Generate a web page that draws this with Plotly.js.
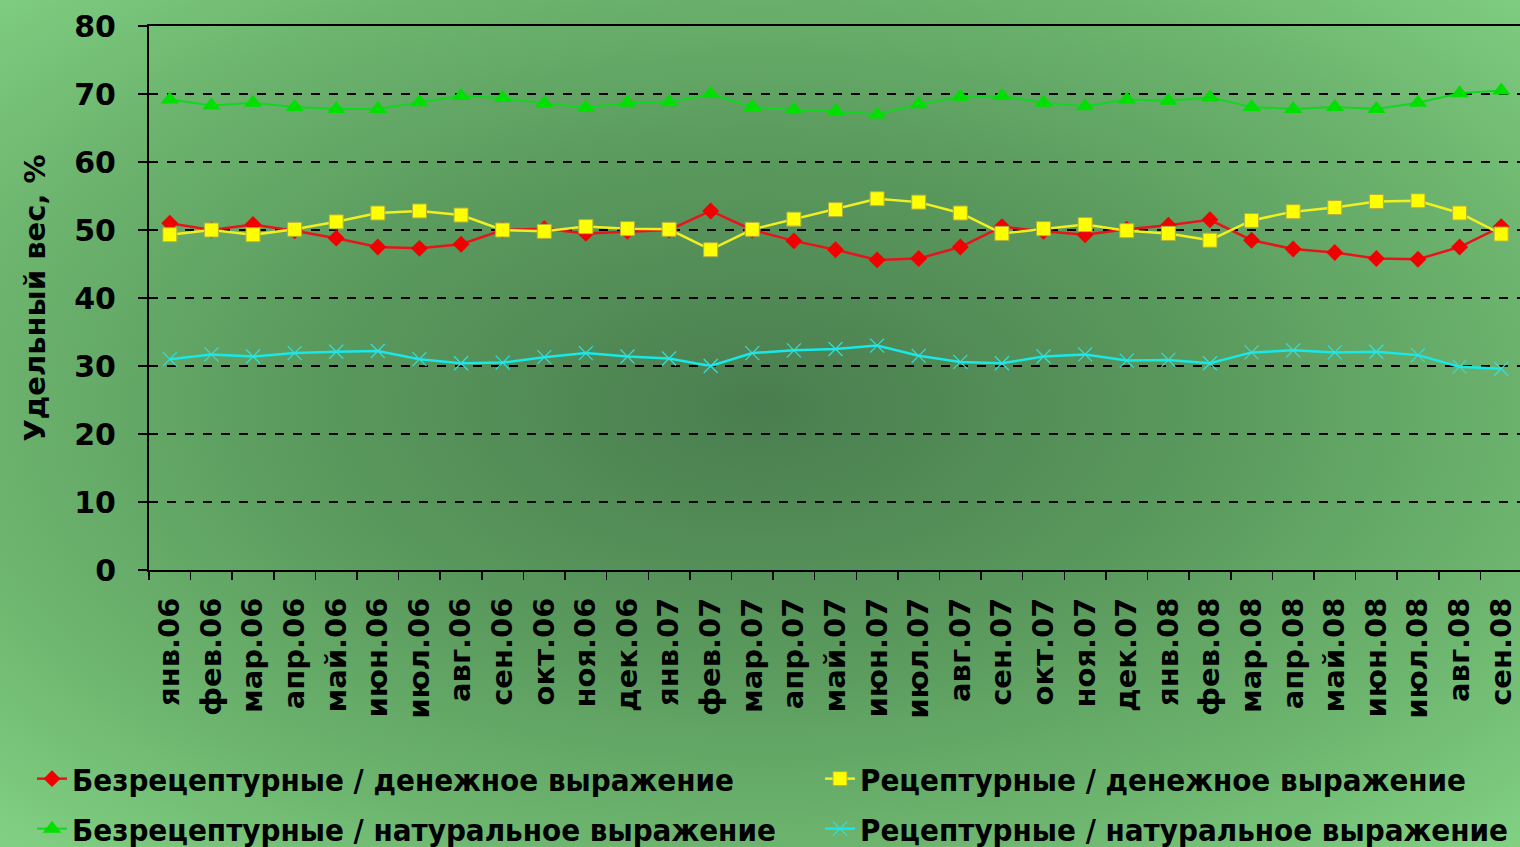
<!DOCTYPE html>
<html><head><meta charset="utf-8">
<script src="https://cdn.plot.ly/plotly-3.0.1.min.js"></script>
<style>
html,body{margin:0;padding:0;width:1520px;height:847px;overflow:hidden;
background: radial-gradient(ellipse 75% 75% at 50% 48%, #4a7d4f 0%, #5a9a5d 40%, #6db56f 70%, #84d586 100%);}
#chart{width:1522px;height:847px;}
</style></head>
<body><div id="chart"></div>
<script>
const categories = ["янв.06","фев.06","мар.06","апр.06","май.06","июн.06","июл.06","авг.06","сен.06","окт.06","ноя.06","дек.06",
"янв.07","фев.07","мар.07","апр.07","май.07","июн.07","июл.07","авг.07","сен.07","окт.07","ноя.07","дек.07",
"янв.08","фев.08","мар.08","апр.08","май.08","июн.08","июл.08","авг.08","сен.08"];
const otcMoney = [51.0,50.0,50.8,49.9,48.8,47.5,47.3,47.9,50.0,50.2,49.5,49.8,50.0,52.8,50.0,48.4,47.1,45.6,45.8,47.5,50.5,49.8,49.3,50.1,50.7,51.5,48.5,47.2,46.7,45.8,45.7,47.5,50.5];
const rxMoney = [49.3,50.0,49.3,50.1,51.2,52.5,52.8,52.2,50.0,49.8,50.5,50.2,50.1,47.1,50.1,51.6,53.0,54.6,54.1,52.5,49.5,50.2,50.8,49.9,49.5,48.5,51.4,52.7,53.3,54.2,54.3,52.5,49.4];
const otcUnits = [69.2,68.3,68.7,68.1,67.8,67.8,68.8,69.7,69.4,68.6,68.0,68.7,68.8,70.0,68.1,67.7,67.5,67.0,68.5,69.6,69.7,68.7,68.2,69.2,69.0,69.5,68.1,67.8,68.1,67.8,68.7,70.1,70.5];
const rxUnits = [31.0,31.7,31.4,31.9,32.1,32.2,31.0,30.4,30.5,31.3,31.9,31.4,31.1,30.0,31.9,32.3,32.5,33.0,31.5,30.6,30.4,31.4,31.7,30.8,30.9,30.4,32.0,32.3,32.0,32.1,31.6,29.9,29.6];
const names = ["Безрецептурные / денежное выражение","Рецептурные / денежное выражение","Безрецептурные / натуральное выражение","Рецептурные / натуральное выражение"];

const lf = {family:"DejaVu Sans Condensed, DejaVu Sans", size:31, color:"#000", weight:"bold"};
const traces = [
 {x:categories,y:otcMoney,name:names[0],mode:"lines+markers",legend:"legend",
  line:{color:"#e8141c",width:2.5},marker:{symbol:"diamond",size:13,color:"#f00000"}},
 {x:categories,y:rxMoney,name:names[1],mode:"lines+markers",legend:"legend2",
  line:{color:"#f0f020",width:2.5},marker:{symbol:"square",size:14,color:"#ffff00",line:{color:"#b0b040",width:1}}},
 {x:categories,y:otcUnits,name:names[2],mode:"lines+markers",legend:"legend3",
  line:{color:"#10d820",width:2},marker:{symbol:"triangle-up",size:16,color:"#00e000"}},
 {x:categories,y:rxUnits,name:names[3],mode:"lines+markers",legend:"legend4",
  line:{color:"#18e8e8",width:2.5},marker:{symbol:"x-thin-open",size:14,color:"#30e0e0",line:{color:"#30e0e0",width:1.2}}}
];
function leg(xpx, ypx){
  return {orientation:"h",xref:"container",yref:"container",x:xpx/1522,y:1-ypx/847,xanchor:"left",yanchor:"top",
    font:lf,bgcolor:"rgba(0,0,0,0)",borderwidth:0};
}
const layout = {
 width:1522,height:847,
 margin:{l:149,r:0,t:26,b:277},
 paper_bgcolor:"rgba(0,0,0,0)",plot_bgcolor:"rgba(0,0,0,0)",
 showlegend:true,
 xaxis:{type:"category",range:[-0.5,32.5],showline:true,linecolor:"#000",linewidth:2,mirror:true,
   ticks:"outside",tickson:"boundaries",ticklen:8,tickcolor:"#000",tickwidth:1.5,ticklabelstandoff:14,
   tickangle:-90,tickfont:{family:"DejaVu Sans",size:29,color:"#000",weight:"bold"},
   showgrid:false,zeroline:false,automargin:false},
 yaxis:{range:[0,80],dtick:10,showline:true,linecolor:"#000",linewidth:2,
   ticks:"outside",ticklen:9,tickcolor:"#000",tickwidth:1.5,ticklabelstandoff:16,
   gridcolor:"#000",griddash:"dash",gridwidth:2,zeroline:false,
   tickfont:{family:"DejaVu Sans",size:30,color:"#000",weight:"bold"},
   title:{text:"Удельный вес, %",standoff:20,font:{family:"DejaVu Sans",size:29,color:"#000",weight:"bold"}},
   automargin:false},
 legend:leg(32,752),
 legend2:leg(820,752),
 legend3:leg(32,802),
 legend4:leg(820,802)
};
Plotly.newPlot("chart",traces,layout,{displayModeBar:false,staticPlot:true});
</script></body></html>
